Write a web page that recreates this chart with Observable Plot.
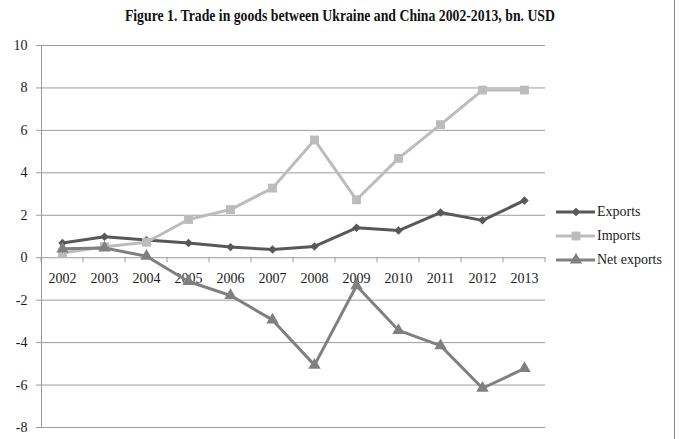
<!DOCTYPE html>
<html>
<head>
<meta charset="utf-8">
<script src="https://cdn.jsdelivr.net/npm/d3@7"></script>
<script src="https://cdn.jsdelivr.net/npm/@observablehq/plot@0.6"></script>
<style>
  html, body { margin: 0; padding: 0; background: #fff; }
  #wrap { position: relative; width: 679px; height: 439px; overflow: hidden; background: #fff; }
  #title { height: 32px; line-height: 32px; text-align: center; white-space: nowrap;
           font-family: "Liberation Serif", "Times New Roman", serif; font-weight: bold; font-size: 17px; color: #111; }
  #title span { display: inline-block; transform-origin: center; }
  #edge { position: absolute; left: 674px; top: 0; width: 1px; height: 439px; background: #8a8a8a; }
</style>
</head>
<body>
<div id="wrap">
  <div id="title"><span>Figure 1. Trade in goods between Ukraine and China 2002-2013, bn. USD</span></div>
  <div id="chart"></div>
  <div id="edge"></div>
</div>
<script>
// Ukraine–China trade in goods, bn. USD
const years = ["2002","2003","2004","2005","2006","2007","2008","2009","2010","2011","2012","2013"];
const exportsBn    = [0.69, 0.99, 0.83, 0.69, 0.50, 0.39, 0.53, 1.41, 1.28, 2.13, 1.76, 2.70];
const importsBn    = [0.22, 0.52, 0.73, 1.80, 2.27, 3.28, 5.55, 2.73, 4.68, 6.27, 7.90, 7.90];
const netExportsBn = [0.42, 0.46, 0.07, -1.12, -1.78, -2.93, -5.06, -1.32, -3.42, -4.14, -6.15, -5.22];
const yTicks = [10, 8, 6, 4, 2, 0, -2, -4, -6, -8];

const seriesNames   = ["Exports", "Imports", "Net exports"];
const seriesValues  = [exportsBn, importsBn, netExportsBn];
const seriesColors  = ["#585858", "#bcbcbc", "#808080"];
const seriesSymbols = ["diamond2", "square", "triangle"];
const seriesRadius  = [3.8, 5.0, 4.6];

const rows = seriesNames.flatMap((name, i) =>
  seriesValues[i].map((value, j) => ({series: name, year: years[j], value})));

const gridColor = "#9c9c9c";

// x-axis tick marks sit between categories, hanging below the zero line
function categoryTicks(index, scales, values, dims) {
  const g = d3.create("svg:g").attr("stroke", gridColor);
  const step = scales.x(years[1]) - scales.x(years[0]);
  const y0 = scales.y(0);
  const edges = years.map(y => scales.x(y) - step / 2).concat(scales.x(years[years.length - 1]) + step / 2);
  for (const x of edges) g.append("line").attr("x1", x).attr("x2", x).attr("y1", y0).attr("y2", y0 + 5);
  return g.node();
}

// vertical value axis line
function valueAxisLine(index, scales, values, dims) {
  return d3.create("svg:line")
    .attr("stroke", gridColor)
    .attr("x1", dims.marginLeft + 0.5).attr("x2", dims.marginLeft + 0.5)
    .attr("y1", dims.marginTop).attr("y2", dims.height - dims.marginBottom)
    .node();
}

// legend to the right of the plot area, vertically centred
function legend(index, scales, values, dims) {
  const g = d3.create("svg:g").attr("text-anchor", "start");
  const x0 = dims.width - dims.marginRight + 11;
  const yc = (dims.marginTop + dims.height - dims.marginBottom) / 2;
  const symbolOf = {diamond2: d3.symbolDiamond2, square: d3.symbolSquare, triangle: d3.symbolTriangle};
  seriesNames.forEach((name, i) => {
    const y = yc + (i - 1) * 24;
    const e = g.append("g").attr("transform", `translate(${x0},${y})`);
    e.append("line").attr("x1", 0).attr("x2", 39).attr("stroke", seriesColors[i]).attr("stroke-width", 3);
    e.append("path")
      .attr("transform", "translate(20,0)")
      .attr("d", d3.symbol(symbolOf[seriesSymbols[i]], Math.PI * seriesRadius[i] ** 2)())
      .attr("fill", seriesColors[i]);
    e.append("text").attr("x", 41).attr("dy", "0.32em").attr("fill", "#1a1a1a").text(name);
  });
  return g.node();
}

const seriesMarks = seriesNames.flatMap((name, i) => {
  const data = rows.filter(d => d.series === name);
  return [
    Plot.line(data, {x: "year", y: "value", stroke: seriesColors[i], strokeWidth: 3}),
    Plot.dot(data, {x: "year", y: "value", fill: seriesColors[i], symbol: seriesSymbols[i], r: seriesRadius[i]})
  ];
});

const chart = Plot.plot({
  width: 679,
  height: 407,
  marginTop: 13,
  marginBottom: 12,
  marginLeft: 41,
  marginRight: 134,
  style: {fontFamily: "'Liberation Serif', 'Times New Roman', serif", fontSize: "14px", color: "#1a1a1a", background: "#fff"},
  x: {type: "point", domain: years, padding: 0.5, axis: null},
  y: {domain: [-8, 10], axis: null},
  marks: [
    Plot.ruleY(yTicks, {stroke: gridColor}),
    Plot.axisY(yTicks, {tickSize: 5, tickPadding: 9, stroke: gridColor, fill: "#1a1a1a", fontSize: 14, label: null, tickFormat: d => String(d)}),
    valueAxisLine,
    categoryTicks,
    Plot.text(years, {x: d => d, y: () => 0, dy: 21, text: d => d, fill: "#1a1a1a", fontSize: 14}),
    ...seriesMarks,
    legend
  ]
});
document.getElementById("chart").appendChild(chart);

// fit the heading to its width in the layout
const span = document.querySelector("#title span");
const w = span.getBoundingClientRect().width;
span.style.transform = `scaleX(${430 / w})`;
</script>
</body>
</html>
